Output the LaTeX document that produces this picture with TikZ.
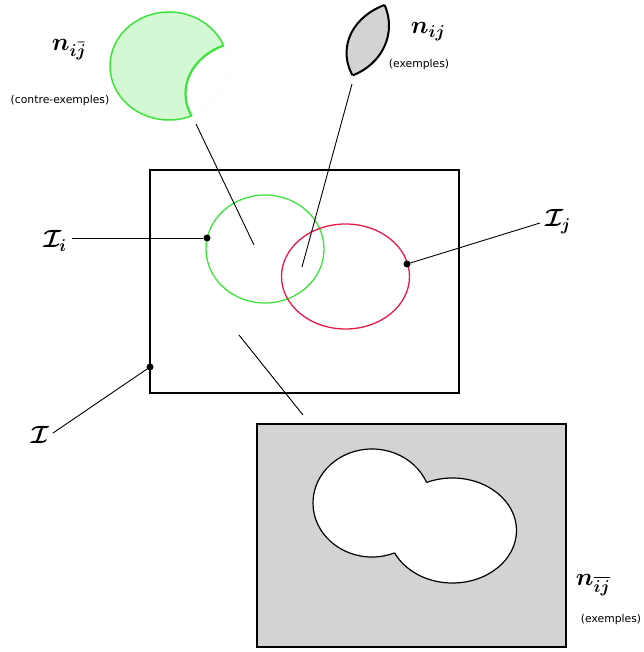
\documentclass[tikz,border=0pt]{standalone}
\usepackage{amsmath,amssymb}
\usepackage{fontspec}
\newfontfamily\petitsans{DejaVu Sans}
\definecolor{vert}{RGB}{60,228,60}
\definecolor{vertclair}{RGB}{212,248,212}
\definecolor{rouge}{RGB}{232,25,72}
\definecolor{gris}{RGB}{211,211,211}

\begin{document}
\begin{tikzpicture}[x=1pt,y=-1pt,
  lettre/.style={font=\fontsize{24}{28}\selectfont},
  legende/.style={font=\petitsans\fontsize{10.8}{12}\selectfont},
  point/.style={circle,fill=black,inner sep=0pt,minimum size=7pt},
  trait/.style={line width=0.9pt}]
\useasboundingbox (0,0) rectangle (643,652);

\begin{scope}[shift={(-96,-183)}]
\begin{scope}
\clip (265,249) ellipse (59 and 54);
\fill[vertclair,even odd rule] (265,249) ellipse (59 and 54) (345.5,276.5) ellipse (64 and 52.5);
\draw[vert,line width=2.2pt] (345.5,276.5) ellipse (64 and 52.5);
\end{scope}
\begin{scope}[even odd rule]
\clip (150,150) rectangle (450,350) (345.5,276.5) ellipse (64 and 52.5);
\draw[vert,line width=1.5pt] (265,249) ellipse (59 and 54);
\end{scope}
\end{scope}

\begin{scope}[shift={(65,-223.5)}]
\begin{scope}
\clip (265,249) ellipse (59 and 54);
\fill[gris] (345.5,276.5) ellipse (64 and 52.5);
\draw[line width=2pt] (345.5,276.5) ellipse (64 and 52.5);
\end{scope}
\begin{scope}
\clip (345.5,276.5) ellipse (64 and 52.5);
\draw[line width=2pt] (265,249) ellipse (59 and 54);
\end{scope}
\end{scope}

\draw[line width=1.3pt] (150,170) rectangle (459,393);
\draw[vert,line width=1.3pt] (265,249) ellipse (59 and 54);
\draw[rouge,line width=1.3pt] (345.5,276.5) ellipse (64 and 52.5);

\fill[gris] (257,424) rectangle (566,647);
\draw[line width=1.3pt] (257,424) rectangle (566,647);
\begin{scope}[shift={(107,254)}]
\fill[white] (265,249) ellipse (59 and 54) (345.5,276.5) ellipse (64 and 52.5);
\begin{scope}[even odd rule]
\clip (150,150) rectangle (450,350) (345.5,276.5) ellipse (64 and 52.5);
\draw[line width=1.2pt] (265,249) ellipse (59 and 54);
\end{scope}
\begin{scope}[even odd rule]
\clip (150,150) rectangle (450,350) (265,249) ellipse (59 and 54);
\draw[line width=1.2pt] (345.5,276.5) ellipse (64 and 52.5);
\end{scope}
\end{scope}

\node[point] (pi) at (207,238) {};
\node[point] (pj) at (407,264) {};
\node[point] (pI) at (150,367) {};
\coordinate (ci) at (72,238);
\coordinate (cj) at (540,223);
\coordinate (cI) at (53,433);
\coordinate (croiss) at (196,124);
\coordinate (dansi) at (254,245);
\coordinate (lentille) at (352,84);
\coordinate (dansij) at (302,267);
\coordinate (dehors) at (239,335);
\coordinate (fond) at (303,415);

\node[lettre] (li) at (55,241) {$\boldsymbol{\mathcal{I}_i}$};
\node[lettre] (lj) at (558,222) {$\boldsymbol{\mathcal{I}_j}$};
\node[lettre] (lI) at (40,435) {$\boldsymbol{\mathcal{I}}$};
\node[lettre] (nibarj) at (69,50) {$\boldsymbol{n_{i\bar{j}}}$};
\node[lettre] (nij) at (428,32) {$\boldsymbol{n_{ij}}$};
\node[lettre] (nbar) at (593,585) {$\boldsymbol{n_{\overline{ij}}}$};
\node[legende] (contre) at (60,101) {(contre-exemples)};
\node[legende] (ex1) at (419,65) {(exemples)};
\node[legende] (ex2) at (611,620) {(exemples)};

\draw[trait] (ci) -- (pi);
\draw[trait] (pj) -- (cj);
\draw[trait] (pI) -- (cI);
\draw[trait] (croiss) -- (dansi);
\draw[trait] (lentille) -- (dansij);
\draw[trait] (dehors) -- (fond);
\end{tikzpicture}
\end{document}
